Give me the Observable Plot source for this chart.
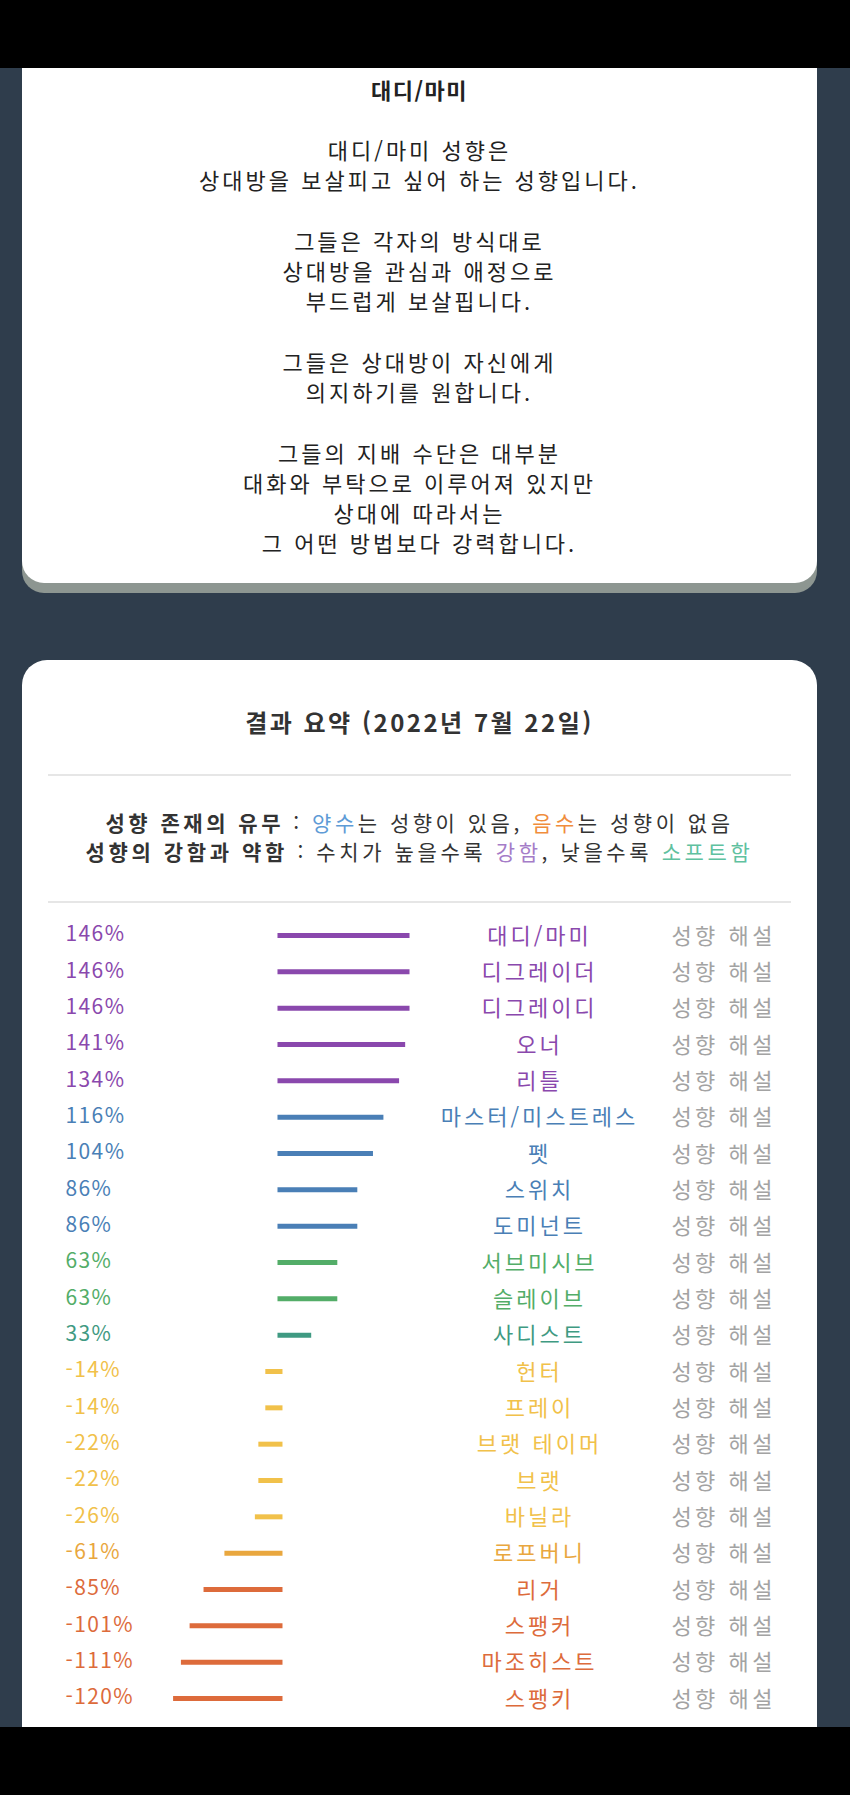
<!DOCTYPE html>
<html lang="ko"><head><meta charset="utf-8">
<script src="https://cdn.jsdelivr.net/npm/d3@7"></script>
<script src="https://cdn.jsdelivr.net/npm/@observablehq/plot@0.6"></script>
<style>
html,body{margin:0;padding:0}
body{width:850px;height:1795px;background:#2f3d4c;position:relative;overflow:hidden;font-family:"Noto Sans CJK KR","Noto Sans",sans-serif;color:#222}
.sysbar{position:absolute;left:0;width:850px;background:#000;z-index:10}
.card{position:absolute;left:22px;width:795px;background:#fff}
#card1{top:20px;height:563px;border-radius:22px;box-shadow:0 10px 0 #8d9691}
#card2{top:660px;height:1200px;border-radius:25px}
.line{position:absolute;left:22px;width:795px;text-align:center;height:30px;line-height:30px;font-size:22px;letter-spacing:3px;white-space:nowrap;color:#222}
.hr{position:absolute;left:48px;width:743px;height:2px;background:#e6e6e6}
b{font-weight:700}
#chart svg{display:block}
</style></head><body>
<div class="sysbar" style="top:0;height:68px"></div>
<div class="sysbar" style="top:1727px;height:68px"></div>
<div class="card" id="card1"></div>
<div class="card" id="card2"></div>
<div id="chart" style="position:absolute;left:0;top:905px"></div>
<script>
// ---- data ----
const introTitle = "대디/마미";
const introParagraphs = [
  ["대디/마미 성향은", "상대방을 보살피고 싶어 하는 성향입니다."],
  ["그들은 각자의 방식대로", "상대방을 관심과 애정으로", "부드럽게 보살핍니다."],
  ["그들은 상대방이 자신에게", "의지하기를 원합니다."],
  ["그들의 지배 수단은 대부분", "대화와 부탁으로 이루어져 있지만", "상대에 따라서는", "그 어떤 방법보다 강력합니다."]
];
const summaryTitle = "결과 요약 (2022년 7월 22일)";
const names = ["대디/마미","디그레이더","디그레이디","오너","리틀","마스터/미스트레스","펫","스위치","도미넌트","서브미시브","슬레이브","사디스트","헌터","프레이","브랫 테이머","브랫","바닐라","로프버니","리거","스팽커","마조히스트","스팽키"];
const values = [146,146,146,141,134,116,104,86,86,63,63,33,-14,-14,-22,-22,-26,-61,-85,-101,-111,-120];
const tiers = ["A","A","A","A","A","B","B","B","B","C","C","D","E","E","E","E","E","F","G","G","G","G"];
const linkLabel = "성향 해설";

// ---- intro card text ----
const LH = 30.25;
function addLine(html, cy, extra) {
  const d = document.createElement("div");
  d.className = "line";
  d.style.top = (cy - 15) + "px";
  if (extra) Object.assign(d.style, extra);
  d.innerHTML = html;
  document.body.appendChild(d);
}
addLine("<b>" + introTitle + "</b>", 89, {letterSpacing: "1.5px"});
let cy = 89 + 2 * LH - 0.5;
introParagraphs.forEach(p => {
  p.forEach(t => { addLine(t, cy); cy += LH; });
  cy += LH;
});

// ---- summary card header ----
addLine("<b>" + summaryTitle + "</b>", 722, {fontSize: "24px", letterSpacing: "2.5px", color: "#333"});
[775, 902].forEach(y => {
  const h = document.createElement("div");
  h.className = "hr"; h.style.top = (y - 1) + "px";
  document.body.appendChild(h);
});
addLine('<b>성향 존재의 유무</b> : <span style="color:#5e9bd6">양수</span>는 성향이 있음, <span style="color:#f08d3c">음수</span>는 성향이 없음', 822, {fontSize: "21px", letterSpacing: "3.5px", color: "#333"});
addLine('<b>성향의 강함과 약함</b> : 수치가 높을수록 <span style="color:#a57cc8">강함</span>, 낮을수록 <span style="color:#5fc1a0">소프트함</span>', 851, {fontSize: "21px", letterSpacing: "3.6px", color: "#333"});

// ---- chart ----
const data = names.map((name, i) => ({name, value: values[i], tier: tiers[i]}));
const plot = Plot.plot({
  width: 850,
  height: 830,
  marginLeft: 65,
  marginRight: 80,
  marginTop: 30,
  marginBottom: 37,
  x: {domain: [-247.1, 563.2], axis: null},
  y: {type: "point", domain: names, padding: 0, round: false, axis: null},
  color: {domain: ["A","B","C","D","E","F","G"], range: ["#8a48ad","#4a7fb6","#53ad68","#3f9a82","#f1c14a","#e9a73e","#dd6b3b"]},
  marks: [
    Plot.ruleY(data, {y: "name", x1: d => 0, x2: "value", stroke: "tier", strokeWidth: 5, strokeLinecap: "square"}),
    Plot.text(data, {y: "name", text: d => d.value + "%", frameAnchor: "left", textAnchor: "start", fill: "tier", fontSize: 21, dy: -1}),
    Plot.text(data, {y: "name", text: "name", frameAnchor: "middle", dx: 121.5, dy: 1, fill: "tier", fontSize: 22}),
    Plot.text(data, {y: "name", text: d => linkLabel, frameAnchor: "right", textAnchor: "end", dx: 5.5, dy: 1, fill: "#a3a3a3", fontSize: 22})
  ]
});
plot.style.background = "transparent";
plot.style.fontFamily = '"Noto Sans CJK KR","Noto Sans",sans-serif';
const textGroups = plot.querySelectorAll('g[aria-label="text"]');
const spacing = ["1.4px", "3px", "3.5px"];
textGroups.forEach((g, i) => { g.style.letterSpacing = spacing[i]; });
document.getElementById("chart").appendChild(plot);
</script>
</body></html>
